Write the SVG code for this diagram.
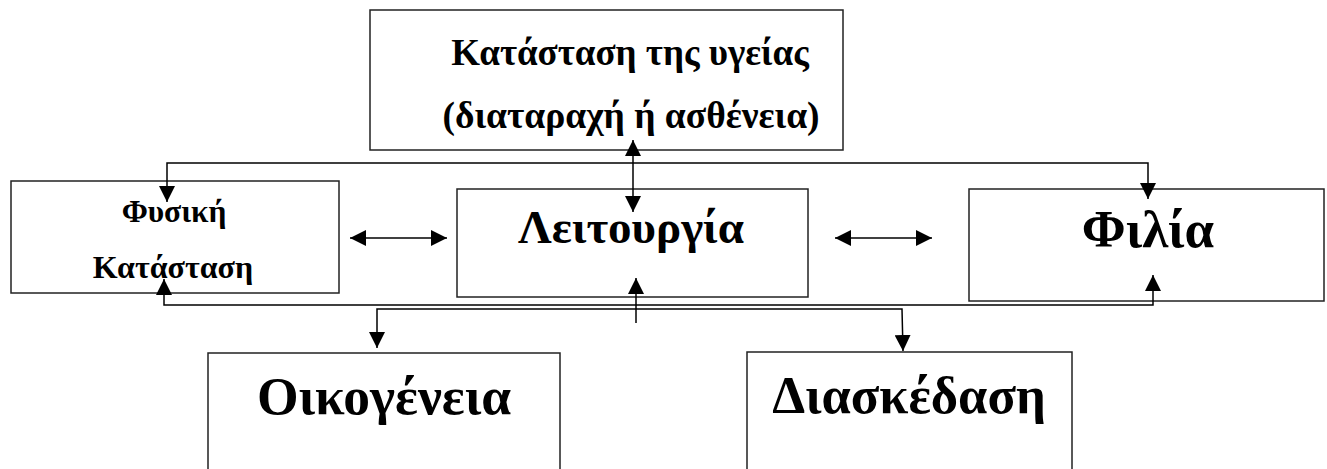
<svg xmlns="http://www.w3.org/2000/svg" width="1327" height="469" viewBox="0 0 1327 469">
<style>
.box{fill:#fff;stroke:#222;stroke-width:1.5}
.t{font-family:"Liberation Serif","Times New Roman",serif;font-weight:bold;fill:#000;text-anchor:middle}
.c{fill:none;stroke:#000;stroke-width:1.5}
</style>
<defs>
<marker id="ah" markerUnits="userSpaceOnUse" markerWidth="16" markerHeight="16" refX="15" refY="7.5" orient="auto-start-reverse" viewBox="0 0 15 15">
<path d="M0,0 L15,7.5 L0,15 Z" fill="#000"/>
</marker>
</defs>
<rect width="1327" height="469" fill="#fff"/>
<g id="node-health">
<rect class="box" x="370" y="10" width="473" height="140"/>
<text class="t" x="630" y="65" font-size="37">Κατάσταση της υγείας</text>
<text class="t" x="631" y="128" font-size="37.5">(διαταραχή ή ασθένεια)</text>
</g>
<g id="node-physical">
<rect class="box" x="11" y="181" width="328" height="112"/>
<text class="t" x="174" y="222" font-size="31.5">Φυσική</text>
<text class="t" x="173" y="278" font-size="32">Κατάσταση</text>
</g>
<g id="node-function">
<rect class="box" x="457" y="189" width="351" height="108"/>
<text class="t" x="631" y="243" font-size="47">Λειτουργία</text>
</g>
<g id="node-friendship">
<rect class="box" x="969" y="189" width="355" height="112"/>
<text class="t" x="1148" y="247" font-size="53">Φιλία</text>
</g>
<g id="node-family">
<rect class="box" x="208" y="353" width="352" height="130"/>
<text class="t" x="384" y="414" font-size="53.5">Οικογένεια</text>
</g>
<g id="node-leisure">
<rect class="box" x="747" y="352" width="325" height="130"/>
<text class="t" x="909" y="413" font-size="52.5">Διασκέδαση</text>
</g>
<g id="connectors">
<path class="c" d="M167,202 L167,163 L1148,163 L1148,199" marker-start="url(#ah)" marker-end="url(#ah)"/>
<path class="c" d="M633,140 L633,212" marker-start="url(#ah)" marker-end="url(#ah)"/>
<path class="c" d="M350,238 L447,238" marker-start="url(#ah)" marker-end="url(#ah)"/>
<path class="c" d="M835,238 L932,238" marker-start="url(#ah)" marker-end="url(#ah)"/>
<path class="c" d="M164,279 L164,305 L1153,305 L1153,275" marker-start="url(#ah)" marker-end="url(#ah)"/>
<path class="c" d="M377,348 L377,309 L902,309 L903,351" marker-start="url(#ah)" marker-end="url(#ah)"/>
<path class="c" d="M636,323 L636,278" marker-end="url(#ah)"/>
</g>
</svg>
